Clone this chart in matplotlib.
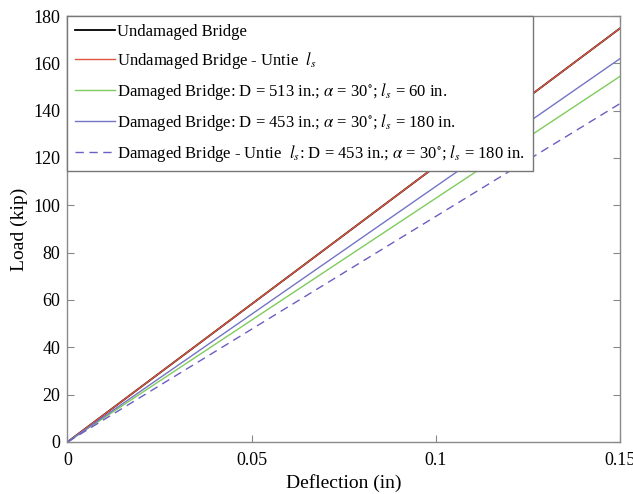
import numpy as np
import matplotlib.pyplot as plt

# DATA
deflection = [0.0, 0.15]
load_undamaged = [0.0, 174.8]
load_undamaged_untie = [0.0, 174.8]
load_damaged_513 = [0.0, 154.5]
load_damaged_453 = [0.0, 162.0]
load_damaged_untie = [0.0, 143.0]

x_ticks = [0, 0.05, 0.1, 0.15]
x_tick_labels = ["0", "0.05", "0.1", "0.15"]
y_ticks = list(range(0, 181, 20))

labels = [
    "Undamaged Bridge",
    r"Undamaged Bridge - Untie  $l_s$",
    r"Damaged Bridge: D = 513 in.; $\alpha$ = 30$^{\circ}$; $l_s$ = 60 in.",
    r"Damaged Bridge: D = 453 in.; $\alpha$ = 30$^{\circ}$; $l_s$ = 180 in.",
    r"Damaged Bridge - Untie  $l_s$: D = 453 in.; $\alpha$ = 30$^{\circ}$; $l_s$ = 180 in.",
]

# STYLE
plt.rcParams["font.family"] = ["Liberation Serif", "DejaVu Serif"]
plt.rcParams["mathtext.fontset"] = "stix"

fig = plt.figure(figsize=(6.33, 4.94), dpi=100)
ax = fig.add_axes([0.1066, 0.1053, 0.9795 - 0.1066, 0.9676 - 0.1053])

# undamaged lines overlap, red drawn over a slightly wider black
ax.plot(deflection, load_undamaged, color="black", lw=1.3, label=labels[0])
ax.plot(deflection, load_undamaged_untie, color="#e0553f", lw=1.0, label=labels[1])
ax.plot(deflection, load_damaged_513, color="#7fcb5c", lw=1.0, label=labels[2])
ax.plot(deflection, load_damaged_453, color="#7474c6", lw=1.0, label=labels[3])
ax.plot(deflection, load_damaged_untie, color="#6a5fc2", lw=1.0,
        linestyle=(0, (6, 4)), label=labels[4])

ax.set_xlim(0, 0.15)
ax.set_ylim(0, 180)
ax.set_xticks(x_ticks)
ax.set_xticklabels(x_tick_labels)
ax.set_yticks(y_ticks)

ax.tick_params(direction="in", length=5, width=0.8, color="#888888",
               labelsize=13, top=True, right=True)
ax.tick_params(axis="x", pad=7)
ax.tick_params(axis="y", pad=5)
for spine in ax.spines.values():
    spine.set_color("#8a8a8a")
    spine.set_linewidth(1.0)

ax.set_xlabel("Deflection (in)", fontsize=14, labelpad=4)
ax.set_ylabel("Load (kip)", fontsize=14, labelpad=4)

leg = ax.legend(loc="upper left", borderaxespad=0, fontsize=12,
                fancybox=False, framealpha=1, edgecolor="#777777",
                handlelength=2.4, handletextpad=0.15, labelspacing=0.6,
                borderpad=0.45)
leg.get_frame().set_linewidth(1.0)

fig.savefig("out.png", dpi=100, facecolor="white")
plt.close(fig)
